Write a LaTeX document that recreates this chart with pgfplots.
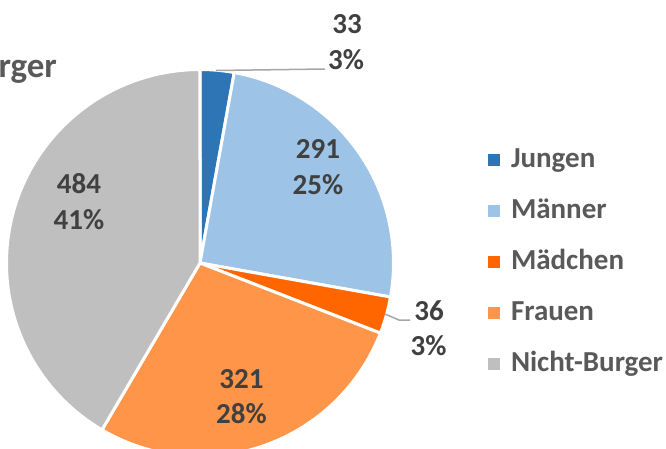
\documentclass[border=0pt]{standalone}
\usepackage{fontspec}
\setmainfont{Carlito}
\usepackage{pgfplots}
\usepackage{pgfplotstable}
\pgfplotsset{compat=1.18}
\definecolor{cJ}{HTML}{2E75B6}
\definecolor{cM}{HTML}{9DC3E6}
\definecolor{cMa}{HTML}{FF6600}
\definecolor{cF}{HTML}{FF9548}
\definecolor{cN}{HTML}{BFBFBF}
\definecolor{cTxt}{HTML}{404040}
\definecolor{cLeg}{HTML}{595959}
\definecolor{cLead}{HTML}{A6A6A6}
\pgfplotstableread{
v
33
291
36
321
484
}\piedata
\begin{document}
\begin{tikzpicture}
\pgfplotstablegetelem{0}{v}\of\piedata \edef\vA{\pgfplotsretval}
\pgfplotstablegetelem{1}{v}\of\piedata \edef\vB{\pgfplotsretval}
\pgfplotstablegetelem{2}{v}\of\piedata \edef\vC{\pgfplotsretval}
\pgfplotstablegetelem{3}{v}\of\piedata \edef\vD{\pgfplotsretval}
\pgfplotstablegetelem{4}{v}\of\piedata \edef\vE{\pgfplotsretval}
\pgfmathsetmacro\tot{\vA+\vB+\vC+\vD+\vE}
\pgfmathsetmacro\aA{0}
\pgfmathsetmacro\aB{\vA/\tot*360}
\pgfmathsetmacro\aC{(\vA+\vB)/\tot*360}
\pgfmathsetmacro\aD{(\vA+\vB+\vC)/\tot*360}
\pgfmathsetmacro\aE{(\vA+\vB+\vC+\vD)/\tot*360}
\pgfmathsetmacro\aF{360}
\path[use as bounding box] (0,0) rectangle (666pt,448pt);
\clip (0,0) rectangle (666pt,448pt);
\begin{axis}[
  at={(0,0)}, anchor=south west,
  scale only axis, width=666pt, height=448pt,
  xmin=0, xmax=666, ymin=0, ymax=448, y dir=reverse,
  axis lines=none, clip=true,
  legend image code/.code={\fill[#1, draw=none] (0pt,-6pt) rectangle (12pt,6pt);},
  legend cell align=left,
  legend style={draw=none, fill=none, inner sep=0pt, outer sep=0pt,
    at={(488/666,{(448-146)/448})}, anchor=north west,
    row sep=24pt,
    font=\fontsize{29}{34}\selectfont\bfseries,
    text=cLeg,
    nodes={inner sep=0pt, outer sep=0pt, text height=21pt, text depth=6pt},
    /tikz/every odd column/.append style={column sep=11pt}},
]
\addplot[fill=cJ, draw=white, line width=3pt, line join=round, domain=\aA:\aB, samples=30]
  ({200+193.5*sin(x)},{263-193.5*cos(x)}) -- (axis cs:200,263) -- cycle;
\addplot[fill=cM, draw=white, line width=3pt, line join=round, domain=\aB:\aC, samples=120]
  ({200+193.5*sin(x)},{263-193.5*cos(x)}) -- (axis cs:200,263) -- cycle;
\addplot[fill=cMa, draw=white, line width=3pt, line join=round, domain=\aC:\aD, samples=30]
  ({200+193.5*sin(x)},{263-193.5*cos(x)}) -- (axis cs:200,263) -- cycle;
\addplot[fill=cF, draw=white, line width=3pt, line join=round, domain=\aD:\aE, samples=120]
  ({200+193.5*sin(x)},{263-193.5*cos(x)}) -- (axis cs:200,263) -- cycle;
\addplot[fill=cN, draw=white, line width=3pt, line join=round, domain=\aE:\aF, samples=160]
  ({200+193.5*sin(x)},{263-193.5*cos(x)}) -- (axis cs:200,263) -- cycle;
\legend{Jungen, Männer, Mädchen, Frauen, Nicht-Burger}
\addplot[forget plot, color=cLead, line width=1.5pt] coordinates {(216,70.5) (325,69)};
\addplot[forget plot, color=cLead, line width=1.5pt] coordinates {(385,314) (399,320) (410,320)};
\begin{scope}[every node/.style={anchor=base, inner sep=0pt, text=cTxt, font=\fontsize{29}{34}\selectfont\bfseries}]
\node at (axis cs:318,158) {291};
\node at (axis cs:318,194) {25\%};
\node at (axis cs:79,193) {484};
\node at (axis cs:79,229) {41\%};
\node at (axis cs:241.5,388) {321};
\node at (axis cs:241.5,423) {28\%};
\node at (axis cs:347,33) {33};
\node at (axis cs:346,69) {3\%};
\node at (axis cs:429,320) {36};
\node at (axis cs:428.5,355) {3\%};
\end{scope}
\node[anchor=base east, inner sep=0pt, text=cLeg, font=\fontsize{35}{40}\selectfont\bfseries] at (axis cs:57,77) {Anteil Burger};
\end{axis}
\end{tikzpicture}
\end{document}
